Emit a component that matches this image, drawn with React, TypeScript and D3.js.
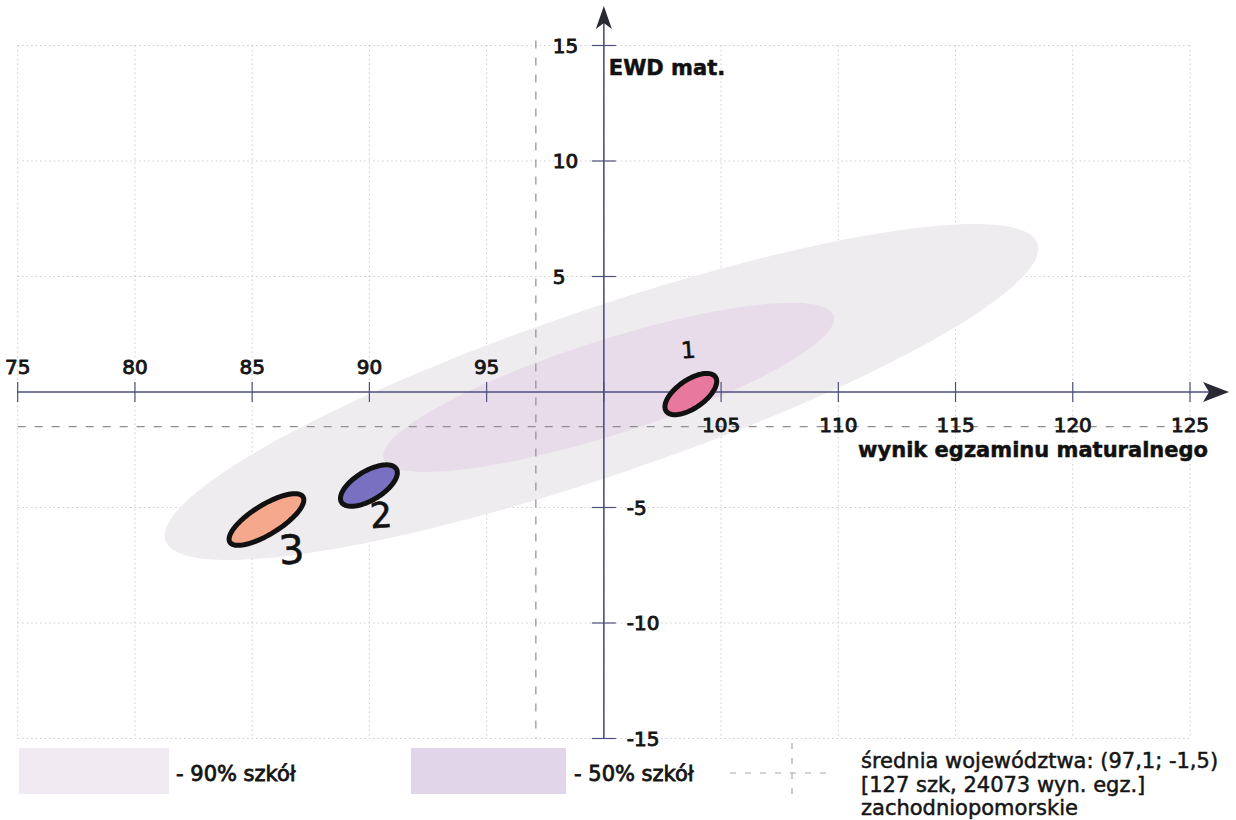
import React from "react";
import * as d3 from "d3";

// ---- data ----
const xTicks = [75, 80, 85, 90, 95, 100, 105, 110, 115, 120, 125];
const yTicks = [-15, -10, -5, 5, 10, 15];
const xLabelTicksAbove = [75, 80, 85, 90, 95];
const xLabelTicksBelow = [105, 110, 115, 120, 125];
const meanX = 97.1;
const meanY = -1.5;

// distribution bands (90% and 50% of schools)
const bandNames = ["90% szkół", "50% szkół"];
const bandCenterX = [99.9, 100.2];
const bandCenterY = [0.0, 0.2];
const bandMajorDX = [18.6, 9.6];
const bandMajorDY = [6.43, 3.1];
const bandRatio = [0.18, 0.2];
const bandColors = ["#efecf0", "#e8dcea"];
const legendBoxColors = ["#f0eaf2", "#e1d5ea"];

// schools (hand-marked)
const schoolNames = ["1", "2", "3"];
const schoolX = [103.71, 89.98, 85.61];
const schoolY = [-0.09, -4.05, -5.52];
const schoolMajorDX = [1.05, 1.17, 1.56];
const schoolMajorDY = [0.74, 0.72, 0.98];
const schoolRatio = [0.47, 0.45, 0.34];
const schoolColors = ["#e9789f", "#7a70c2", "#f6a88d"];

const legendLines = [
  "średnia województwa: (97,1; -1,5)",
  "[127 szk, 24073 wyn. egz.]",
  "zachodniopomorskie",
];

const x = d3.scaleLinear().domain([75, 125]).range([17.7, 1190]);
const y = d3.scaleLinear().domain([-15, 15]).range([738.5, 45.5]);

function ellipsePath(cx: number, cy: number, dx: number, dy: number, ratio: number) {
  const p0 = [x(cx), y(cy)];
  const p1 = [x(cx + dx), y(cy + dy)];
  const ux = p1[0] - p0[0];
  const uy = p1[1] - p0[1];
  const vx = -uy * ratio;
  const vy = ux * ratio;
  const pts: [number, number][] = d3.range(0, 96).map((i) => {
    const t = (i / 96) * Math.PI * 2;
    return [p0[0] + Math.cos(t) * ux + Math.sin(t) * vx, p0[1] + Math.cos(t) * uy + Math.sin(t) * vy];
  });
  return d3.line().curve(d3.curveLinearClosed)(pts) as string;
}

const FONT = "'DejaVu Sans', Verdana, sans-serif";
const AXIS = "#4d4f7e";

export default function App() {
  const x0 = x(100);
  const y0 = y(0);
  const labelOffsets = [
    [-2, -36],
    [13, 42],
    [26, 44],
  ];
  const labelSizes = [23, 35, 40];
  return (
    <svg
      width={1236}
      height={820}
      style={{ position: "absolute", left: 0, top: 0, background: "#fff" }}
    >
      {/* grid */}
      <g stroke="#cccccc" strokeWidth={1} strokeDasharray="1.5,3">
        {xTicks.map((t) => (
          <line key={"gx" + t} x1={x(t)} x2={x(t)} y1={y(15)} y2={y(-15)} />
        ))}
        {yTicks.map((t) => (
          <line key={"gy" + t} x1={x(75)} x2={x(125)} y1={y(t)} y2={y(t)} />
        ))}
      </g>

      {/* bands */}
      {bandNames.map((n, i) => (
        <path
          key={n}
          d={ellipsePath(bandCenterX[i], bandCenterY[i], bandMajorDX[i], bandMajorDY[i], bandRatio[i])}
          fill={bandColors[i]}
        />
      ))}

      {/* mean lines */}
      <g stroke="#8f8f8f" strokeWidth={1.2} strokeDasharray="8,9">
        <line x1={x(75)} x2={x(125)} y1={y(meanY)} y2={y(meanY)} />
        <line x1={x(meanX)} x2={x(meanX)} y1={y(15) - 5} y2={y(-15)} />
      </g>

      {/* axes */}
      <g stroke={AXIS} strokeWidth={1.6}>
        <line x1={x(75)} x2={1212} y1={y0} y2={y0} />
        <line x1={x0} x2={x0} y1={y(-15)} y2={22} />
        {xTicks.map((t) => (
          <line key={"tx" + t} x1={x(t)} x2={x(t)} y1={y0 - 10} y2={y0 + 10} strokeWidth={1.2} />
        ))}
        {yTicks.map((t) => (
          <line key={"ty" + t} x1={x0 - 12} x2={x0 + 12} y1={y(t)} y2={y(t)} strokeWidth={1.2} />
        ))}
      </g>
      <path d={`M1229,${y0} L1203,${y0 - 10} L1209,${y0} L1203,${y0 + 10} Z`} fill="#2a2a35" />
      <path d={`M${x0},6 L${x0 - 8},29 L${x0},23 L${x0 + 8},29 Z`} fill="#2a2a35" />

      {/* tick labels */}
      <g fontFamily={FONT} fontSize={20} fill="#151515" stroke="#151515" strokeWidth={0.9}>
        {xLabelTicksAbove.map((t) => (
          <text key={"lx" + t} x={x(t)} y={y0 - 18} textAnchor="middle">
            {t}
          </text>
        ))}
        {xLabelTicksBelow.map((t) => (
          <text key={"lx" + t} x={x(t)} y={y0 + 40} textAnchor="middle">
            {t}
          </text>
        ))}
        {yTicks.map((t) => (
          <text key={"ly" + t} x={t > 0 ? x0 - 51 : x0 + 23} y={y(t) + 7} textAnchor="start">
            {t}
          </text>
        ))}
      </g>

      {/* axis titles */}
      <g fontFamily={FONT} fontWeight="bold" fontSize={21} fill="#111" stroke="#111" strokeWidth={0.5}>
        <text x={x0 + 5} y={75}>EWD mat.</text>
        <text x={1208} y={457} textAnchor="end">wynik egzaminu maturalnego</text>
      </g>

      {/* schools */}
      {schoolNames.map((n, i) => {
        const cx = x(schoolX[i]);
        const cy = y(schoolY[i]);
        const lx = cx + labelOffsets[i][0];
        const ly = cy + labelOffsets[i][1];
        return (
          <g key={"s" + n}>
            <path
              d={ellipsePath(schoolX[i], schoolY[i], schoolMajorDX[i], schoolMajorDY[i], schoolRatio[i])}
              fill={schoolColors[i]}
              stroke="#111"
              strokeWidth={5}
              strokeLinejoin="round"
            />
            <text
              x={lx}
              y={ly}
              textAnchor="middle"
              fontFamily={FONT}
              fontSize={labelSizes[i]}
              fill="#111"
              stroke="#111"
              strokeWidth={0.6}
              transform={`rotate(-4 ${lx} ${ly})`}
            >
              {n}
            </text>
          </g>
        );
      })}

      {/* legend */}
      <g fontFamily={FONT} fontSize={21} fill="#151515" stroke="#151515" strokeWidth={0.8}>
        <rect x={19} y={748} width={150} height={46} fill={legendBoxColors[0]} stroke="none" />
        <text x={176} y={781}>- {bandNames[0]}</text>
        <rect x={411} y={748} width={155} height={46} fill={legendBoxColors[1]} stroke="none" />
        <text x={574} y={781}>- {bandNames[1]}</text>
      </g>
      <g stroke="#a8a8a8" strokeWidth={1.2} strokeDasharray="6,9">
        <line x1={730} x2={826} y1={773} y2={773} />
        <line x1={792} x2={792} y1={743} y2={803} />
      </g>
      <g fontFamily={FONT} fontSize={21} fill="#151515" stroke="#151515" strokeWidth={0.5}>
        {legendLines.map((l, i) => (
          <text key={l} x={861} y={768 + i * 23.5}>
            {l}
          </text>
        ))}
      </g>
    </svg>
  );
}
